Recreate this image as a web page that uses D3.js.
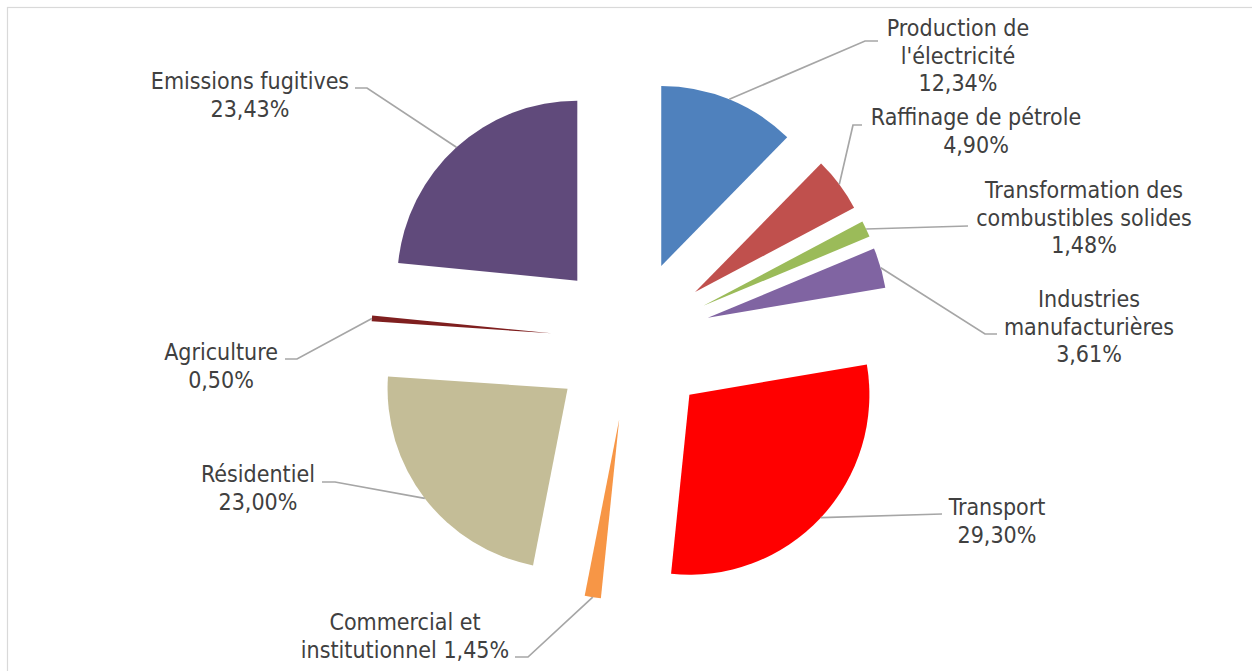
<!DOCTYPE html>
<head>
<meta charset="utf-8">
<script src="https://d3js.org/d3.v7.min.js"></script>
<style>
  body { margin: 0; background: #fff; }
  .lbl { font-family: "DejaVu Sans Condensed", "DejaVu Sans", sans-serif; font-size: 23px; fill: #404040; }
</style>
</head>
<body>
<div id="my_dataviz"></div>
<script>

// data
var categories = ["Production de l'électricité", "Raffinage de pétrole", "Transformation des combustibles solides",
  "Industries manufacturières", "Transport", "Commercial et institutionnel", "Résidentiel", "Agriculture", "Emissions fugitives"]
var values = [12.34, 4.90, 1.48, 3.61, 29.30, 1.45, 23.00, 0.50, 23.43]
var valueLabels = ["12,34%", "4,90%", "1,48%", "3,61%", "29,30%", "1,45%", "23,00%", "0,50%", "23,43%"]
// how each label is broken into lines
var labelLines = [
  ["Production de", "l'électricité", "12,34%"],
  ["Raffinage de pétrole", "4,90%"],
  ["Transformation des", "combustibles solides", "1,48%"],
  ["Industries", "manufacturières", "3,61%"],
  ["Transport", "29,30%"],
  ["Commercial et", "institutionnel 1,45%"],
  ["Résidentiel", "23,00%"],
  ["Agriculture", "0,50%"],
  ["Emissions fugitives", "23,43%"]
]
var colors = ["#4F81BD", "#C0504D", "#9BBB59", "#8064A2", "#FF0000", "#F79646", "#C4BD97", "#7F1F1F", "#604A7B"]

// label layout: text centre x, first baseline y, leader elbow and end
var labelLayout = [
  {x: 958, y: 36, elbow: [865, 41], end: [878, 41]},
  {x: 976, y: 125, elbow: [853, 125], end: [862, 125]},
  {x: 1084, y: 198, elbow: [968, 226], end: [968, 226]},
  {x: 1089, y: 307, elbow: [985, 334], end: [997, 334]},
  {x: 997, y: 515, elbow: [942, 514], end: [942, 514]},
  {x: 405, y: 630, elbow: [528, 657], end: [515, 657]},
  {x: 258, y: 482, elbow: [335, 482], end: [322, 482]},
  {x: 221, y: 360, elbow: [297, 359], end: [285, 359]},
  {x: 250, y: 89, elbow: [367, 88], end: [355, 88]}
]

var width = 1252, height = 671
var cx = 631, cy = 340, radius = 180, explode = 80, lineH = 27.5

var svg = d3.select("#my_dataviz")
  .append("svg")
    .attr("width", width)
    .attr("height", height)

// chart border
svg.append("rect")
  .attr("x", 7.5).attr("y", 7.5)
  .attr("width", width + 20).attr("height", height + 20)
  .attr("fill", "none")
  .attr("stroke", "#d9d9d9")
  .attr("stroke-width", 1.2)

var pie = d3.pie().sort(null).value(function(d){ return d })
var arcs = pie(values)
var arc = d3.arc().innerRadius(0).outerRadius(radius)

function offset(d, r) {
  var a = (d.startAngle + d.endAngle) / 2
  return [r * Math.sin(a), -r * Math.cos(a)]
}

var g = svg.append("g").attr("transform", "translate(" + cx + "," + cy + ")")

g.selectAll("slices")
  .data(arcs)
  .enter()
  .append("path")
    .attr("d", arc)
    .attr("fill", function(d, i){ return colors[i] })
    .attr("transform", function(d){
      var o = offset(d, explode)
      return "translate(" + o[0] + "," + o[1] + ")"
    })

// leader lines
svg.selectAll("leaders")
  .data(arcs)
  .enter()
  .append("polyline")
    .attr("fill", "none")
    .attr("stroke", "#a6a6a6")
    .attr("stroke-width", 1.7)
    .attr("points", function(d, i){
      var o1 = offset(d, explode), o2 = offset(d, radius)
      var s = [cx + o1[0] + o2[0], cy + o1[1] + o2[1]]
      var L = labelLayout[i]
      return [s, L.elbow, L.end].map(function(p){ return p.join(",") }).join(" ")
    })

// labels
labelLines.forEach(function(lines, i){
  var L = labelLayout[i]
  var t = svg.append("text")
    .attr("class", "lbl")
    .attr("text-anchor", "middle")
  lines.forEach(function(s, k){
    t.append("tspan")
      .attr("x", L.x)
      .attr("y", L.y + k * lineH)
      .text(s)
  })
})

</script>
</body>
